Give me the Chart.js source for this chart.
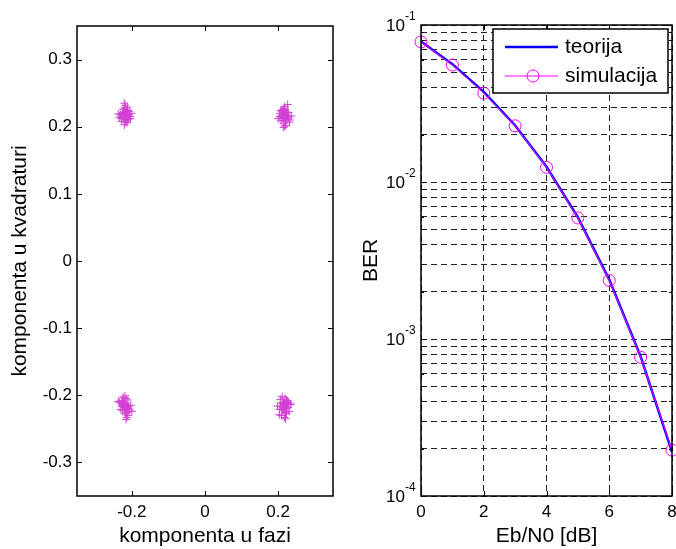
<!DOCTYPE html>
<html lang="hr">
<head>
<meta charset="UTF-8">
<title>Konstelacija i BER</title>
<style>
  body { margin: 0; background: #fff; overflow: hidden; }
  #lijevo { position: absolute; left: 0; top: 0; width: 340px; height: 549px; }
  #desno { position: absolute; left: 340px; top: 0; width: 350px; height: 549px; }
</style>
</head>
<body>
<div id="lijevo"><canvas id="konstelacija"></canvas></div>
<div id="desno"><canvas id="ber"></canvas></div>

<script src="https://cdn.jsdelivr.net/npm/chart.js"></script>
<script>
// primljeni simboli, po jedan par nizova za svaki kvadrant
const simA_I = [-0.223,-0.212,-0.229,-0.220,-0.205,-0.215,-0.226,-0.208,-0.234,-0.218,-0.213,-0.202,-0.224,-0.216,-0.231,-0.210,-0.221,-0.207,-0.228,-0.215,-0.220,-0.237,-0.212,-0.204,-0.218,
                -0.217,-0.219,-0.214,-0.222,-0.216,-0.220,-0.213,-0.218,-0.225,-0.211];
const simA_Q = [0.219,0.224,0.212,0.228,0.215,0.209,0.221,0.218,0.214,0.232,0.206,0.220,0.226,0.213,0.218,0.211,0.235,0.223,0.208,0.217,0.203,0.219,0.229,0.212,0.222,
                0.216,0.220,0.214,0.218,0.225,0.211,0.222,0.207,0.217,0.215];
const simB_I = [0.213,0.224,0.207,0.231,0.218,0.204,0.221,0.228,0.210,0.216,0.236,0.208,0.220,0.226,0.200,0.215,0.223,0.212,0.232,0.218,0.205,0.229,0.215,0.221,0.210,
                0.217,0.219,0.222,0.214,0.220,0.216,0.225,0.211,0.218,0.213];
const simB_Q = [0.218,0.211,0.224,0.207,0.230,0.215,0.202,0.221,0.213,0.226,0.216,0.209,0.219,0.233,0.212,0.205,0.222,0.217,0.210,0.227,0.220,0.214,0.199,0.216,0.223,
                0.215,0.219,0.212,0.221,0.208,0.224,0.217,0.213,0.201,0.226];
const simC_I = [-0.221,-0.210,-0.229,-0.214,-0.203,-0.224,-0.218,-0.234,-0.211,-0.222,-0.206,-0.227,-0.216,-0.237,-0.213,-0.219,-0.200,-0.226,-0.208,-0.230,-0.218,-0.211,-0.222,-0.214,-0.221,
                -0.215,-0.218,-0.220,-0.213,-0.217,-0.223,-0.212,-0.219,-0.216,-0.225];
const simC_Q = [-0.213,-0.220,-0.208,-0.226,-0.215,-0.203,-0.218,-0.211,-0.230,-0.214,-0.222,-0.217,-0.236,-0.209,-0.219,-0.201,-0.224,-0.212,-0.216,-0.221,-0.228,-0.207,-0.215,-0.233,-0.218,
                -0.217,-0.212,-0.221,-0.215,-0.226,-0.210,-0.219,-0.214,-0.205,-0.223];
const simD_I = [0.212,0.223,0.206,0.230,0.219,0.203,0.225,0.215,0.233,0.211,0.220,0.207,0.228,0.217,0.198,0.222,0.214,0.235,0.209,0.227,0.219,0.204,0.215,0.223,0.212,
                0.218,0.215,0.221,0.213,0.219,0.224,0.216,0.211,0.220,0.226];
const simD_Q = [-0.212,-0.219,-0.206,-0.224,-0.215,-0.229,-0.209,-0.220,-0.214,-0.202,-0.226,-0.217,-0.211,-0.233,-0.216,-0.207,-0.222,-0.213,-0.230,-0.218,-0.204,-0.221,-0.214,-0.227,-0.210,
                -0.216,-0.211,-0.219,-0.213,-0.224,-0.208,-0.218,-0.221,-0.235,-0.212];

const konstXTicks = [-0.2, 0, 0.2];
const konstXLabels = ['-0.2', '0', '0.2'];
const konstYTicks = [-0.3, -0.2, -0.1, 0, 0.1, 0.2, 0.3];
const konstYLabels = ['-0.3', '-0.2', '-0.1', '0', '0.1', '0.2', '0.3'];

// BER krivulje
const ebn0 = [0, 1, 2, 3, 4, 5, 6, 7, 8];
const berTeorija = [0.0786, 0.0563, 0.0375, 0.0229, 0.0125, 0.00595, 0.00239, 0.000773, 0.000191];
const berSimulacija = [0.0780, 0.0556, 0.0368, 0.0228, 0.0124, 0.00590, 0.00236, 0.000765, 0.000196];

const berXTicks = [0, 2, 4, 6, 8];
const berDekade = [-4, -3, -2, -1];
const berYTicks = [];
berDekade.forEach(k => {
    for (let m = 1; m <= 9; m++) {
        if (k === -1 && m > 1) break;
        berYTicks.push(m * Math.pow(10, k));
    }
});

const FONT = "'Liberation Sans', Arial, sans-serif";

function parovi(xs, ys) {
    return xs.map((x, i) => ({ x: x, y: ys[i] }));
}

// okvir osi i kratke crtice prema unutra, kao u MATLAB-u
const okvir = {
    id: 'okvir',
    afterDatasetsDraw(chart, args, opts) {
        const { ctx, chartArea: a } = chart;
        const sx = chart.scales.x, sy = chart.scales.y;
        ctx.save();
        ctx.strokeStyle = '#000';
        ctx.lineWidth = 1;
        ctx.beginPath();
        opts.xTicks.forEach(v => {
            const p = Math.round(sx.getPixelForValue(v)) + 0.5;
            ctx.moveTo(p, a.bottom); ctx.lineTo(p, a.bottom - 5);
            ctx.moveTo(p, a.top); ctx.lineTo(p, a.top + 5);
        });
        opts.yTicks.forEach(v => {
            const p = Math.round(sy.getPixelForValue(v)) + 0.5;
            const d = opts.isMajor(v) ? 5 : 3;
            ctx.moveTo(a.left, p); ctx.lineTo(a.left + d, p);
            ctx.moveTo(a.right, p); ctx.lineTo(a.right - d, p);
        });
        ctx.stroke();
        ctx.lineWidth = 1.5;
        ctx.strokeRect(a.left, a.top, a.right - a.left, a.bottom - a.top);
        ctx.restore();
    }
};

// ---- lijevi graf: konstelacija ----
new Chart(document.getElementById('konstelacija'), {
    type: 'scatter',
    data: {
        datasets: [{
            data: [].concat(parovi(simA_I, simA_Q), parovi(simB_I, simB_Q),
                            parovi(simC_I, simC_Q), parovi(simD_I, simD_Q)),
            pointStyle: 'cross',
            pointRadius: 4,
            borderColor: 'rgb(210,64,210)',
            borderWidth: 1
        }]
    },
    options: {
        responsive: true,
        maintainAspectRatio: false,
        animation: false,
        layout: { padding: { top: 26, right: 7, left: 0, bottom: 0 } },
        plugins: {
            legend: { display: false },
            tooltip: { enabled: false },
            okvir: { xTicks: konstXTicks, yTicks: konstYTicks, isMajor: () => true }
        },
        scales: {
            x: {
                type: 'linear', min: -0.35, max: 0.35,
                afterBuildTicks: s => { s.ticks = konstXTicks.map(v => ({ value: v })); },
                afterFit: s => { s.height = 53; },
                grid: { display: false, drawTicks: false },
                border: { display: false },
                ticks: {
                    padding: 6, color: '#000', font: { family: FONT, size: 17 },
                    maxRotation: 0, autoSkip: false,
                    callback: (v, i) => konstXLabels[i]
                },
                title: { display: true, text: 'komponenta u fazi', color: '#000',
                         font: { family: FONT, size: 21 }, padding: { top: 0, bottom: 0 } }
            },
            y: {
                type: 'linear', min: -0.35, max: 0.35,
                afterBuildTicks: s => { s.ticks = konstYTicks.map(v => ({ value: v })); },
                afterFit: s => { s.width = 77; },
                grid: { display: false, drawTicks: false },
                border: { display: false },
                ticks: {
                    padding: 5, color: '#000', font: { family: FONT, size: 17 },
                    autoSkip: false,
                    callback: (v, i) => konstYLabels[i]
                },
                title: { display: true, text: 'komponenta u kvadraturi', color: '#000',
                         font: { family: FONT, size: 21 }, padding: { top: 8, bottom: 0 } }
            }
        }
    },
    plugins: [okvir]
});

// eksponenti 10^k i legenda za desni graf
const berDodaci = {
    id: 'berDodaci',
    afterDraw(chart) {
        const { ctx } = chart;
        const sy = chart.scales.y;
        ctx.save();
        ctx.fillStyle = '#000';
        berDekade.forEach(k => {
            const y = sy.getPixelForValue(Math.pow(10, k));
            ctx.font = '17px ' + FONT;
            ctx.textAlign = 'right';
            ctx.textBaseline = 'middle';
            ctx.fillText('10', 65, y + 1);
            ctx.font = '12px ' + FONT;
            ctx.textAlign = 'left';
            ctx.fillText('-' + (-k), 65, y - 8);
        });

        // legenda
        const lx = 153, ly = 29, lw = 175, lh = 64;
        ctx.fillStyle = '#fff';
        ctx.fillRect(lx, ly, lw, lh);
        ctx.strokeStyle = '#000';
        ctx.lineWidth = 1.5;
        ctx.strokeRect(lx, ly, lw, lh);

        ctx.lineWidth = 2.5;
        ctx.strokeStyle = '#0000ff';
        ctx.beginPath(); ctx.moveTo(lx + 12, ly + 18); ctx.lineTo(lx + 65, ly + 18); ctx.stroke();
        ctx.lineWidth = 1;
        ctx.strokeStyle = '#ff00ff';
        ctx.beginPath(); ctx.moveTo(lx + 12, ly + 47); ctx.lineTo(lx + 65, ly + 47); ctx.stroke();
        ctx.beginPath(); ctx.arc(lx + 40, ly + 47, 6, 0, Math.PI * 2); ctx.stroke();

        ctx.fillStyle = '#000';
        ctx.font = '21px ' + FONT;
        ctx.textAlign = 'left';
        ctx.textBaseline = 'middle';
        ctx.fillText('teorija', lx + 72, ly + 18);
        ctx.fillText('simulacija', lx + 72, ly + 47);
        ctx.restore();
    }
};

// ---- desni graf: BER ----
new Chart(document.getElementById('ber'), {
    type: 'line',
    data: {
        datasets: [{
            label: 'teorija',
            data: parovi(ebn0, berTeorija),
            borderColor: '#0000ff',
            borderWidth: 2.5,
            pointRadius: 0,
            tension: 0,
            order: 2
        }, {
            label: 'simulacija',
            data: parovi(ebn0, berSimulacija),
            borderColor: '#ff00ff',
            borderWidth: 1,
            pointStyle: 'circle',
            pointRadius: 6,
            pointBorderWidth: 1,
            pointBorderColor: '#ff00ff',
            pointBackgroundColor: 'rgba(0,0,0,0)',
            tension: 0,
            clip: false,
            order: 1
        }]
    },
    options: {
        responsive: true,
        maintainAspectRatio: false,
        animation: false,
        layout: { padding: { top: 25, right: 18, left: 0, bottom: 0 } },
        plugins: {
            legend: { display: false },
            tooltip: { enabled: false },
            okvir: { xTicks: berXTicks, yTicks: berYTicks,
                     isMajor: v => Math.abs(Math.log10(v) - Math.round(Math.log10(v))) < 1e-6 }
        },
        scales: {
            x: {
                type: 'linear', min: 0, max: 8,
                afterBuildTicks: s => { s.ticks = berXTicks.map(v => ({ value: v })); },
                afterFit: s => { s.height = 53; },
                grid: { display: true, drawTicks: false, color: '#222', lineWidth: 1 },
                border: { display: false, dash: [6, 4] },
                ticks: {
                    padding: 6, color: '#000', font: { family: FONT, size: 17 },
                    maxRotation: 0, autoSkip: false,
                    callback: v => String(v)
                },
                title: { display: true, text: 'Eb/N0 [dB]', color: '#000',
                         font: { family: FONT, size: 21 }, padding: { top: 0, bottom: 0 } }
            },
            y: {
                type: 'logarithmic', min: 1e-4, max: 1e-1,
                afterBuildTicks: s => { s.ticks = berYTicks.map(v => ({ value: v })); },
                afterFit: s => { s.width = 81; },
                grid: { display: true, drawTicks: false, color: '#222', lineWidth: 1 },
                border: { display: false, dash: [6, 4] },
                ticks: { display: false, autoSkip: false },
                title: { display: true, text: 'BER', color: '#000',
                         font: { family: FONT, size: 21 }, padding: { top: 19, bottom: 0 } }
            }
        }
    },
    plugins: [okvir, berDodaci]
});
</script>
</body>
</html>
